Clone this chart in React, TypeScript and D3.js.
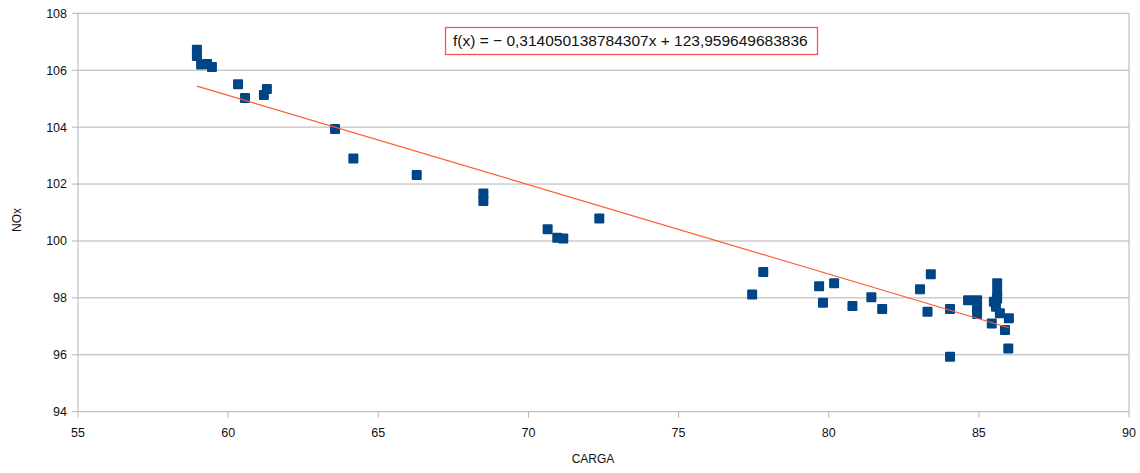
import React from "react";
import * as d3 from "d3";

// CARGA (load) vs NOx measurements
const cargaValues: number[] = [
  58.96, 58.96, 59.1, 59.3, 59.46, 60.33, 60.56, 61.19, 61.29,
  63.56, 64.17, 66.28, 68.5, 68.5, 70.64, 70.96, 71.16, 72.36,
  77.45, 77.82, 79.68, 79.81, 80.18, 80.79, 81.42, 81.78,
  83.04, 83.4, 83.29, 84.04, 84.04,
  84.64, 84.94, 84.94, 84.94,
  85.61, 85.61, 85.61, 85.5, 85.57, 85.7, 85.43, 85.87, 86.0, 85.98,
];
const noxValues: number[] = [
  106.72, 106.5, 106.2, 106.22, 106.11, 105.51, 105.02, 105.13, 105.34,
  103.93, 102.9, 102.32, 101.67, 101.4, 100.41, 100.11, 100.09, 100.79,
  98.12, 98.91, 98.41, 97.83, 98.51, 97.71, 98.02, 97.61,
  98.3, 98.83, 97.51, 97.61, 95.93,
  97.92, 97.92, 97.68, 97.43,
  98.51, 98.21, 97.98, 97.86, 97.69, 97.46, 97.1, 96.87, 97.28, 96.22,
];

const xTicks: number[] = [55, 60, 65, 70, 75, 80, 85, 90];
const yTicks: number[] = [94, 96, 98, 100, 102, 104, 106, 108];

// Linear trend line coefficients
const slope = -0.314050138784307;
const intercept = 123.959649683836;
const equationLabel = "f(x) = − 0,314050138784307x + 123,959649683836";

const W = 1140;
const H = 473;

export default function App() {
  const x = d3.scaleLinear().domain([55, 90]).range([78, 1129]);
  const y = d3.scaleLinear().domain([94, 108]).range([411.7, 13.3]);

  const points = cargaValues.map((c, i) => ({ c, n: noxValues[i] }));
  const [xMin, xMax] = d3.extent(cargaValues) as [number, number];
  const trend = d3
    .line<number>()
    .x((v) => x(v))
    .y((v) => y(slope * v + intercept))([xMin, xMax]);

  const font = "'Liberation Sans', Arial, sans-serif";
  const grid = "#b3b3b3";
  const size = 10;

  return (
    <svg
      width={W}
      height={H}
      style={{ position: "absolute", left: 0, top: 0, background: "#fff" }}
      fontFamily={font}
    >
      {/* horizontal gridlines with outer ticks */}
      {yTicks.map((t) => (
        <g key={"y" + t}>
          <line x1={72} x2={x(90)} y1={y(t)} y2={y(t)} stroke={grid} strokeWidth={1} />
          <text x={67} y={y(t)} dy="0.35em" textAnchor="end" fontSize={12.5} fill="#111">
            {t}
          </text>
        </g>
      ))}
      {/* vertical axis and right border */}
      <line x1={x(55)} x2={x(55)} y1={y(108)} y2={y(94)} stroke={grid} strokeWidth={1} />
      <line x1={x(90)} x2={x(90)} y1={y(108)} y2={y(94)} stroke={grid} strokeWidth={1} />
      {/* x ticks */}
      {xTicks.map((t) => (
        <g key={"x" + t}>
          <line x1={x(t)} x2={x(t)} y1={y(94)} y2={y(94) + 6} stroke={grid} strokeWidth={1} />
          <text x={x(t)} y={433} dy="0.35em" textAnchor="middle" fontSize={12.5} fill="#111">
            {t}
          </text>
        </g>
      ))}

      {/* markers */}
      {points.map((p, i) => (
        <rect
          key={i}
          x={x(p.c) - size / 2}
          y={y(p.n) - size / 2}
          width={size}
          height={size}
          fill="#004586"
          rx={1}
        />
      ))}

      {/* trend line */}
      <path d={trend ?? ""} fill="none" stroke="#ff5a30" strokeWidth={1.2} />

      {/* equation box */}
      <rect x={445.5} y={27.5} width={372} height={27} fill="#fff" stroke="#ff5050" strokeWidth={1.3} />
      <text x={453} y={41} dy="0.35em" fontSize={15.5} fill="#111">
        {equationLabel}
      </text>

      {/* axis titles */}
      <text x={593} y={459} dy="0.35em" textAnchor="middle" fontSize={12} fill="#111">
        CARGA
      </text>
      <text
        transform={`translate(17,220) rotate(-90)`}
        dy="0.35em"
        textAnchor="middle"
        fontSize={12}
        fill="#111"
      >
        NOx
      </text>
    </svg>
  );
}
